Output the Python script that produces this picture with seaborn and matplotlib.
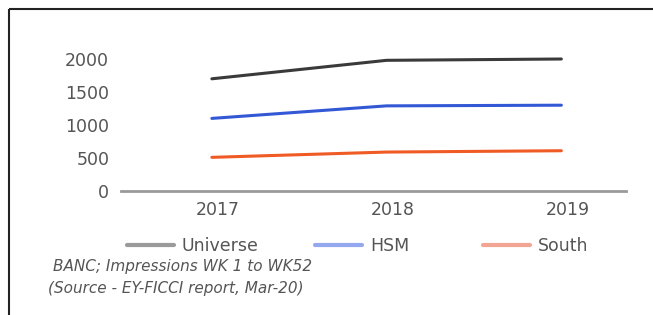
import matplotlib
matplotlib.use("Agg")
import matplotlib.pyplot as plt
import seaborn as sns
import pandas as pd
from matplotlib.lines import Line2D
from matplotlib.transforms import ScaledTranslation

years = ["2017", "2018", "2019"]
universe = [1700, 1980, 2000]
hsm = [1100, 1290, 1300]
south = [510, 590, 610]
series_names = ["Universe", "HSM", "South"]
line_colors = ["#3a3a3a", "#3358d6", "#f05a24"]
legend_colors = ["#9a9a9a", "#93a8ee", "#f2a592"]
yticks = [0, 500, 1000, 1500, 2000]
notes = ["BANC; Impressions WK 1 to WK52", "(Source - EY-FICCI report, Mar-20)"]

sns.set_theme(style="white")
plt.rcParams["font.family"] = ["DejaVu Sans"]

df = pd.DataFrame({
    "year": years * 3,
    "value": universe + hsm + south,
    "series": sum([[n] * 3 for n in series_names], []),
})

W, H = 653, 315
fig = plt.figure(figsize=(W / 100, H / 100), dpi=100)
ax = fig.add_axes([121 / W, 1 - 191 / H, (626 - 121) / W, 145.2 / H])
sns.lineplot(data=df, x="year", y="value", hue="series", palette=line_colors,
             linewidth=2.2, ax=ax, legend=False, sort=False)
ax.set_ylim(0, 2200)
ax.set_xlim(-0.52, 2.37)
ax.set_yticks(yticks)
ax.set_yticklabels([str(v) for v in yticks])
ax.set_xlabel("")
ax.set_ylabel("")
for s in ["top", "right", "left"]:
    ax.spines[s].set_visible(False)
ax.spines["bottom"].set_color("#9a9a9a")
ax.spines["bottom"].set_linewidth(2)
ax.tick_params(axis="both", length=0, labelsize=12.5, colors="#555555")
ax.tick_params(axis="x", pad=7)
ax.tick_params(axis="y", pad=8.5)
shift = ScaledTranslation(6 / 100, 0, fig.dpi_scale_trans)
for lbl in ax.get_xticklabels():
    lbl.set_transform(lbl.get_transform() + shift)

handle_x = [127, 315, 483]
for name, col, hx in zip(series_names, legend_colors, handle_x):
    fig.legend([Line2D([0], [0], color=col, lw=3)], [name], loc="center left",
               bbox_to_anchor=(hx / W, 1 - 246 / H), frameon=False, fontsize=12.5,
               handlelength=2.7, handletextpad=0.46, borderpad=0, borderaxespad=0,
               labelcolor="#555555")

fig.text(53 / W, 1 - 267 / H, notes[0], fontsize=11, style="italic", color="#555555", va="center")
fig.text(48 / W, 1 - 288 / H, notes[1], fontsize=11, style="italic", color="#555555", va="center")

fig.add_artist(Line2D([9 / W, 1.02], [1 - 9 / H, 1 - 9 / H], color="#222222", lw=1.5,
                      solid_capstyle="butt"))
fig.add_artist(Line2D([9 / W, 9 / W], [-0.02, 1 - 9 / H], color="#222222", lw=1.5,
                      solid_capstyle="butt"))

fig.savefig("out.png", dpi=100)
